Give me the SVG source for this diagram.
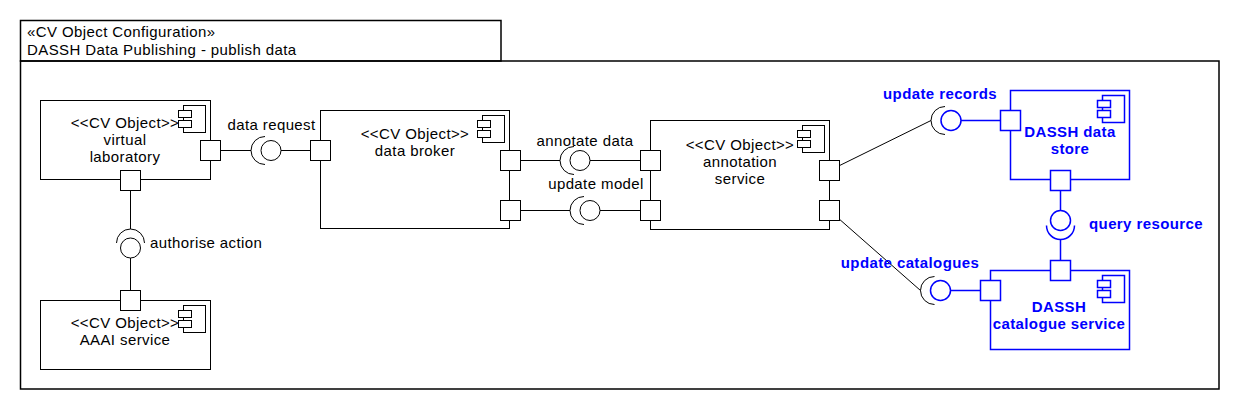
<svg xmlns="http://www.w3.org/2000/svg" xmlns:xlink="http://www.w3.org/1999/xlink" width="1240" height="410" viewBox="0 0 1240 410">
<style>
.fr{fill:none;stroke:#000;stroke-width:1.5}
.n{fill:#fff;stroke:#000;stroke-width:1}
.nb{fill:#fff;stroke:#00f;stroke-width:1.5}
.t{font-family:"Liberation Sans",Arial,sans-serif;font-size:15px;letter-spacing:0.4px;fill:#000}
.m{text-anchor:middle}
.b{font-weight:bold;fill:#00f}
.ln{stroke:#000;stroke-width:1;fill:none}
.lb{stroke:#00f;stroke-width:1.5;fill:none}
.ball{fill:#fff;stroke:#00f;stroke-width:1.5}
.ballk{fill:#fff;stroke:#000;stroke-width:1}
</style>
<defs>
<g id="icon">
<rect x="-27" y="5" width="22" height="27" fill="#fff"/>
<rect x="-32" y="10" width="13" height="7" fill="#fff"/>
<rect x="-32" y="20" width="13" height="7" fill="#fff"/>
</g>
</defs>
<rect width="1240" height="410" fill="#fff"/>
<g id="frame">
<rect class="fr" x="20.5" y="61" width="1198.5" height="328"/>
<rect class="fr" x="20.5" y="20.5" width="480.5" height="40.5"/>
<text class="t" x="27" y="37">«CV Object Configuration»</text>
<text class="t" x="27" y="55">DASSH Data Publishing - publish data</text>
</g>
<g id="connectors">
<line class="ln" x1="220.5" y1="150.5" x2="251" y2="150.5"/>
<line class="ln" x1="281" y1="150.5" x2="310.5" y2="150.5"/>
<line class="ln" x1="520.5" y1="160.5" x2="560" y2="160.5"/>
<line class="ln" x1="590" y1="160.5" x2="640.5" y2="160.5"/>
<line class="ln" x1="520.5" y1="210.5" x2="570" y2="210.5"/>
<line class="ln" x1="600" y1="210.5" x2="640.5" y2="210.5"/>
<line class="ln" x1="829.5" y1="170.5" x2="931" y2="120.5"/>
<line class="lb" x1="961" y1="120.5" x2="1000.5" y2="120.5"/>
<line class="ln" x1="829.5" y1="210.5" x2="920.5" y2="290.5"/>
<line class="lb" x1="950.5" y1="290.5" x2="980.5" y2="290.5"/>
<line class="lb" x1="1060.5" y1="190.5" x2="1060.5" y2="210.5"/>
<line class="lb" x1="1060.5" y1="239.5" x2="1060.5" y2="260.5"/>
<line class="ln" x1="130.5" y1="190.5" x2="130.5" y2="229"/>
<line class="ln" x1="130.5" y1="258" x2="130.5" y2="290.5"/>
</g>
<g id="virtual-laboratory">
<rect class="n" x="40.5" y="100.5" width="170" height="79"/>
<use xlink:href="#icon" x="210.5" y="100.5" stroke="#000" stroke-width="1"/>
<text class="t m" x="125" y="128">&lt;&lt;CV Object&gt;&gt;</text>
<text class="t m" x="125" y="145">virtual</text>
<text class="t m" x="125" y="162">laboratory</text>
<rect class="n" x="200.5" y="140.5" width="20" height="20"/>
<rect class="n" x="120.5" y="170.5" width="20" height="20"/>
</g>
<g id="aaai-service">
<rect class="n" x="40.5" y="300.5" width="170" height="69"/>
<use xlink:href="#icon" x="210.5" y="300.5" stroke="#000" stroke-width="1"/>
<text class="t m" x="125" y="328">&lt;&lt;CV Object&gt;&gt;</text>
<text class="t m" x="125" y="345">AAAI service</text>
<rect class="n" x="120.5" y="290.5" width="20" height="20"/>
</g>
<g id="data-broker">
<rect class="n" x="320.5" y="110.5" width="189" height="118"/>
<use xlink:href="#icon" x="509.5" y="110.5" stroke="#000" stroke-width="1"/>
<text class="t m" x="415" y="139">&lt;&lt;CV Object&gt;&gt;</text>
<text class="t m" x="415" y="156">data broker</text>
<rect class="n" x="310.5" y="140.5" width="20" height="20"/>
<rect class="n" x="500.5" y="150.5" width="20" height="20"/>
<rect class="n" x="500.5" y="200.5" width="20" height="20"/>
</g>
<g id="annotation-service">
<rect class="n" x="650.5" y="120.5" width="179" height="109"/>
<use xlink:href="#icon" x="829.5" y="120.5" stroke="#000" stroke-width="1"/>
<text class="t m" x="740" y="150">&lt;&lt;CV Object&gt;&gt;</text>
<text class="t m" x="740" y="167">annotation</text>
<text class="t m" x="740" y="184">service</text>
<rect class="n" x="640.5" y="150.5" width="20" height="20"/>
<rect class="n" x="640.5" y="200.5" width="20" height="20"/>
<rect class="n" x="819.5" y="160.5" width="20" height="20"/>
<rect class="n" x="819.5" y="200.5" width="20" height="20"/>
</g>
<g id="dassh-data-store">
<rect class="nb" x="1010.5" y="90.5" width="119" height="89"/>
<use xlink:href="#icon" x="1129.5" y="90.5" stroke="#00f" stroke-width="1.5"/>
<text class="t m b" x="1070" y="137">DASSH data</text>
<text class="t m b" x="1070" y="154">store</text>
<rect class="nb" x="1000.5" y="110.5" width="20" height="20"/>
<rect class="nb" x="1050.5" y="170.5" width="20" height="20"/>
</g>
<g id="dassh-catalogue-service">
<rect class="nb" x="990.5" y="270.5" width="139" height="79"/>
<use xlink:href="#icon" x="1129.5" y="270.5" stroke="#00f" stroke-width="1.5"/>
<text class="t m b" x="1059" y="312">DASSH</text>
<text class="t m b" x="1059" y="329">catalogue service</text>
<rect class="nb" x="1050.5" y="260.5" width="20" height="20"/>
<rect class="nb" x="980.5" y="280.5" width="20" height="20"/>
</g>
<g id="if-data-request">
<path class="ln" d="M265,136.5 A14,14 0 0 0 265,164.5"/>
<circle class="ballk" cx="271" cy="150.5" r="10"/>
<text class="t m" x="271.5" y="130">data request</text>
</g>
<g id="if-annotate-data">
<path class="ln" d="M574,146.5 A14,14 0 0 0 574,174.5"/>
<circle class="ballk" cx="580" cy="160.5" r="10"/>
<text class="t m" x="585" y="146">annotate data</text>
</g>
<g id="if-update-model">
<path class="ln" d="M584,196.5 A14,14 0 0 0 584,224.5"/>
<circle class="ballk" cx="590" cy="210.5" r="10"/>
<text class="t m" x="596" y="189">update model</text>
</g>
<g id="if-authorise-action">
<path class="ln" d="M116.5,243 A14,14 0 0 1 144.5,243"/>
<circle class="ballk" cx="130.5" cy="248" r="10"/>
<text class="t" x="150" y="248">authorise action</text>
</g>
<g id="if-update-records">
<path class="ln" d="M945,106.5 A14,14 0 0 0 945,134.5"/>
<circle class="ball" cx="951" cy="120.5" r="10"/>
<text class="t m b" x="940" y="99">update records</text>
</g>
<g id="if-query-resource">
<path class="lb" d="M1046.5,225.5 A14,14 0 0 0 1074.5,225.5"/>
<circle class="ball" cx="1060.5" cy="220.5" r="10"/>
<text class="t b" x="1089" y="229">query resource</text>
</g>
<g id="if-update-catalogues">
<path class="ln" d="M934.5,276.5 A14,14 0 0 0 934.5,304.5"/>
<circle class="ball" cx="940.5" cy="290.5" r="10"/>
<text class="t m b" x="910" y="268">update catalogues</text>
</g>
</svg>
